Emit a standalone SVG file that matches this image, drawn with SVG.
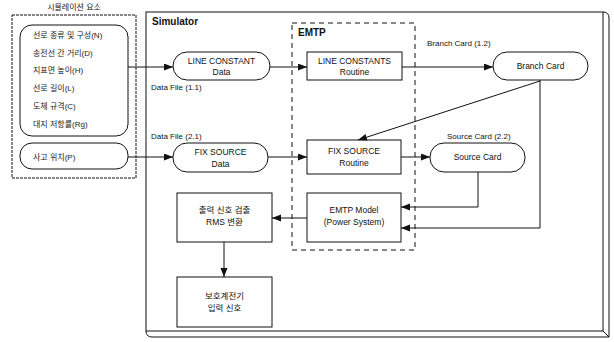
<svg xmlns="http://www.w3.org/2000/svg" width="614" height="342" viewBox="0 0 614 342">
<style>
  .ln{fill:none;stroke:#111;stroke-width:1}
  .bx{fill:#fff;stroke:#111;stroke-width:1}
  .dash{fill:none;stroke:#111;stroke-width:1;stroke-dasharray:5,4}
  .t{font-family:"Liberation Sans","Noto Sans CJK KR",Arial,sans-serif;font-size:8.5px;fill:#111;text-anchor:middle}
  .tl{font-family:"Liberation Sans","Noto Sans CJK KR",Arial,sans-serif;font-size:8px;fill:#111}
  .tk{font-family:"Liberation Sans","Noto Sans CJK KR",Arial,sans-serif;font-size:8px;fill:#222}
  .hb{font-family:"Liberation Sans",Arial,sans-serif;font-size:10px;font-weight:bold;fill:#111}
  .arr{fill:none;stroke:#111;stroke-width:1;marker-end:url(#ah)}
</style>
<defs>
  <marker id="ah" markerUnits="userSpaceOnUse" markerWidth="10" markerHeight="8" refX="9" refY="3.5" orient="auto">
    <path d="M0,0 L9,3.5 L0,7 z" fill="#111"/>
  </marker>
</defs>
<rect width="614" height="342" fill="#fff"/>

<!-- Left input panel -->
<g id="input-panel">
  <text class="tk" x="74" y="10" text-anchor="middle">시뮬레이션 요소</text>
  <rect class="ln" x="12" y="15" width="124" height="163" stroke-dasharray="3,1"/>
</g>
<g id="line-params">
  <rect class="bx" x="20" y="25" width="108" height="111" rx="12"/>
  <text class="tk" x="33" y="38">선로 종류 및 구성(N)</text>
  <text class="tk" x="33" y="56">송전선 간 거리(D)</text>
  <text class="tk" x="33" y="73">지표면 높이(H)</text>
  <text class="tk" x="33" y="91">선로 길이(L)</text>
  <text class="tk" x="33" y="109">도체 규격(C)</text>
  <text class="tk" x="33" y="127">대지 저항률(Rg)</text>
</g>
<g id="fault-param">
  <rect class="bx" x="20" y="143" width="108" height="26" rx="12"/>
  <text class="tk" x="33" y="160">사고 위치(P)</text>
</g>

<!-- Simulator frame -->
<g id="simulator">
  <path class="ln" d="M603,12 Q609,12 609,18 L609,337 L152,337 Q146,337 146,331"/>
  <line class="ln" x1="603" y1="331" x2="609" y2="337"/>
  <rect class="ln" x="146" y="12" width="457" height="319"/>
  <text class="hb" x="152" y="25">Simulator</text>
</g>

<g id="emtp">
  <rect class="dash" x="292" y="23" width="123" height="227"/>
  <text class="hb" x="298" y="36" font-size="9.5">EMTP</text>
</g>

<g id="line-constant-data">
  <rect class="bx" x="173" y="52" width="97" height="28" rx="14"/>
  <text class="t" x="221.5" y="64">LINE CONSTANT</text>
  <text class="t" x="221.5" y="75">Data</text>
</g>
<text class="tl" x="151" y="90">Data File (1.1)</text>

<g id="line-constants-routine">
  <rect class="bx" x="307" y="52" width="95" height="28"/>
  <text class="t" x="354.5" y="64">LINE CONSTANTS</text>
  <text class="t" x="354.5" y="75">Routine</text>
</g>

<g id="branch-card">
  <rect class="bx" x="493" y="52" width="95" height="28" rx="14"/>
  <text class="t" x="540.5" y="69">Branch Card</text>
</g>
<text class="tl" x="427" y="46">Branch Card (1.2)</text>

<g id="fix-source-data">
  <rect class="bx" x="173" y="143" width="95" height="29" rx="14"/>
  <text class="t" x="220.5" y="155">FIX SOURCE</text>
  <text class="t" x="220.5" y="167">Data</text>
</g>
<text class="tl" x="151" y="139">Data File (2.1)</text>

<g id="fix-source-routine">
  <rect class="bx" x="307" y="140" width="94" height="34"/>
  <text class="t" x="354" y="154">FIX SOURCE</text>
  <text class="t" x="354" y="166">Routine</text>
</g>

<g id="source-card">
  <rect class="bx" x="430" y="143" width="95" height="29" rx="14"/>
  <text class="t" x="477.5" y="160">Source Card</text>
</g>
<text class="tl" x="447" y="139">Source Card (2.2)</text>

<g id="emtp-model">
  <rect class="bx" x="307" y="193" width="94" height="49"/>
  <text class="t" x="354" y="213">EMTP Model</text>
  <text class="t" x="354" y="225">(Power System)</text>
</g>

<g id="rms">
  <rect class="bx" x="177" y="193" width="95" height="49"/>
  <text class="t" x="224.5" y="213">출력 신호 검출</text>
  <text class="t" x="224.5" y="225">RMS 변환</text>
</g>

<g id="relay-input">
  <rect class="bx" x="177" y="277" width="95" height="50"/>
  <text class="t" x="224.5" y="299">보호계전기</text>
  <text class="t" x="224.5" y="311">입력 신호</text>
</g>

<!-- Connectors -->
<g id="connectors">
  <line class="arr" x1="128" y1="67" x2="173" y2="67"/>
  <line class="arr" x1="128" y1="157" x2="173" y2="157"/>
  <line class="arr" x1="270" y1="67" x2="307" y2="67"/>
  <line class="arr" x1="402" y1="67" x2="493" y2="67"/>
  <line class="arr" x1="540" y1="81" x2="358" y2="140"/>
  <polyline class="arr" points="540,80 540,228 401,228"/>
  <line class="arr" x1="268" y1="157" x2="307" y2="157"/>
  <line class="arr" x1="401" y1="157" x2="430" y2="157"/>
  <polyline class="arr" points="478,172 478,207 401,207"/>
  <line class="arr" x1="307" y1="218" x2="272" y2="218"/>
  <line class="arr" x1="224" y1="242" x2="224" y2="277"/>
</g>
</svg>
